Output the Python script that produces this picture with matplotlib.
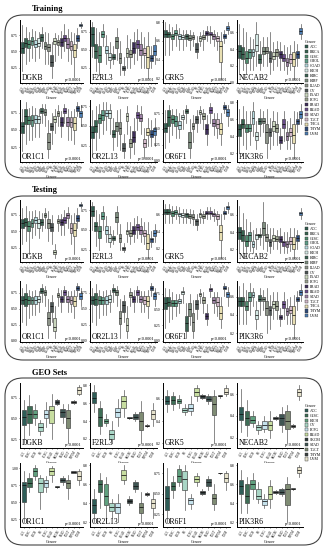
import numpy as np
import matplotlib.pyplot as plt
from matplotlib.patches import FancyBboxPatch, Patch
from matplotlib.transforms import IdentityTransform
from matplotlib.ticker import MultipleLocator, FormatStrFormatter

plt.rcParams['font.family'] = ['Liberation Serif', 'DejaVu Serif']

# ---------------- categories / colours ----------------
tcga_cancers = ['ACC', 'BRCA', 'CESC', 'CHOL', 'COAD', 'KICH', 'KIRC', 'KIRP', 'LUAD', 'OV',
                'PAAD', 'PCPG', 'PRAD', 'READ', 'STAD', 'TGCT', 'THCA', 'THYM', 'UVM']
tcga_colors = ['#2f5c4e', '#36644f', '#4e8c6e', '#5f9e88', '#b5dadf', '#d4e8e4', '#3b6252',
               '#7c8d7e', '#8d9489', '#4c5555', '#c9d5bd', '#9aa28e', '#3e2e5a', '#6a4c8a',
               '#9d80a5', '#d3b9c9', '#e8dfb2', '#2e4a78', '#4c7db3']
geo_cancers = ['ACC', 'CESC', 'KICH', 'OV', 'PCPG', 'READ', 'SKCM', 'STAD', 'TGCT', 'THYM', 'UVM']
geo_colors = ['#2e5d57', '#3e6e56', '#5fa07e', '#a9d6c6', '#c5e2ec', '#c7dda0', '#2f3b3b',
              '#3f5553', '#7f8c74', '#3a4040', '#e6e2cc']

genes = ['DGKB', 'F2RL3', 'GRK5', 'NECAB2', 'OR1C1', 'OR2L13', 'OR6F1', 'PIK3R6']
tcga_steps = [0.25, 0.25, 0.2, 0.2, 0.25, 0.25, 0.25, 0.2]
geo_steps = [0.25, 0.2, 0.2, 0.2, 0.25, 0.2, 0.25, 0.2]

# box statistics per cancer: (whisker low, q1, median, q3, whisker high)
train_DGKB = [(0.20, 0.47, 0.55, 0.65, 0.90), (0.30, 0.56, 0.63, 0.70, 0.88), (0.35, 0.55, 0.62, 0.68, 0.80),
              (0.40, 0.60, 0.66, 0.72, 0.85), (0.35, 0.56, 0.62, 0.68, 0.82), (0.40, 0.58, 0.63, 0.70, 0.80),
              (0.55, 0.66, 0.72, 0.77, 0.88), (0.30, 0.53, 0.58, 0.64, 0.80), (0.30, 0.50, 0.56, 0.62, 0.78),
              (0.08, 0.28, 0.33, 0.45, 0.65), (0.35, 0.62, 0.66, 0.70, 0.78), (0.45, 0.60, 0.64, 0.68, 0.76),
              (0.40, 0.58, 0.64, 0.70, 0.82), (0.50, 0.66, 0.71, 0.76, 0.92), (0.35, 0.55, 0.62, 0.70, 0.85),
              (0.30, 0.52, 0.58, 0.66, 0.80), (0.10, 0.42, 0.52, 0.62, 0.78), (0.55, 0.66, 0.71, 0.76, 0.86),
              (0.86, 0.89, 0.91, 0.93, 0.95)]
train_F2RL3 = [(0.40, 0.55, 0.72, 0.82, 0.88), (0.20, 0.38, 0.48, 0.58, 0.80), (0.15, 0.33, 0.42, 0.55, 0.75),
               (0.55, 0.68, 0.72, 0.76, 0.85), (0.30, 0.45, 0.50, 0.55, 0.70), (0.25, 0.36, 0.40, 0.45, 0.60),
               (0.30, 0.37, 0.40, 0.44, 0.55), (0.35, 0.52, 0.62, 0.68, 0.80), (0.15, 0.32, 0.38, 0.45, 0.62),
               (0.15, 0.22, 0.25, 0.28, 0.40), (0.25, 0.40, 0.45, 0.52, 0.70), (0.25, 0.40, 0.44, 0.50, 0.65),
               (0.30, 0.45, 0.52, 0.60, 0.75), (0.35, 0.52, 0.58, 0.64, 0.78), (0.25, 0.42, 0.50, 0.58, 0.75),
               (0.25, 0.42, 0.46, 0.52, 0.68), (0.10, 0.25, 0.40, 0.55, 0.75), (0.25, 0.34, 0.38, 0.42, 0.55),
               (0.30, 0.42, 0.48, 0.56, 0.68)]
train_GRK5 = [(0.45, 0.64, 0.68, 0.72, 0.80), (0.45, 0.64, 0.67, 0.70, 0.78), (0.50, 0.62, 0.65, 0.68, 0.75),
              (0.55, 0.66, 0.69, 0.72, 0.78), (0.50, 0.62, 0.65, 0.68, 0.74), (0.50, 0.62, 0.64, 0.66, 0.72),
              (0.55, 0.62, 0.65, 0.67, 0.72), (0.50, 0.61, 0.63, 0.66, 0.72), (0.55, 0.62, 0.64, 0.66, 0.70),
              (0.42, 0.48, 0.52, 0.58, 0.65), (0.55, 0.60, 0.63, 0.65, 0.70), (0.50, 0.62, 0.64, 0.66, 0.72),
              (0.60, 0.66, 0.69, 0.71, 0.76), (0.58, 0.66, 0.68, 0.70, 0.76), (0.55, 0.62, 0.65, 0.67, 0.72),
              (0.50, 0.60, 0.63, 0.65, 0.70), (0.20, 0.38, 0.55, 0.60, 0.70), (0.58, 0.63, 0.65, 0.67, 0.72),
              (0.68, 0.72, 0.74, 0.76, 0.80)]
train_NECAB2 = [(0.10, 0.30, 0.38, 0.45, 0.70), (0.15, 0.28, 0.34, 0.42, 0.65), (0.10, 0.24, 0.30, 0.38, 0.60),
                (0.15, 0.30, 0.36, 0.40, 0.55), (0.15, 0.32, 0.36, 0.40, 0.52), (0.20, 0.38, 0.45, 0.58, 0.72),
                (0.15, 0.24, 0.28, 0.34, 0.50), (0.20, 0.34, 0.38, 0.42, 0.55), (0.20, 0.35, 0.38, 0.42, 0.55),
                (0.10, 0.25, 0.30, 0.38, 0.60), (0.15, 0.28, 0.32, 0.36, 0.48), (0.20, 0.32, 0.36, 0.40, 0.50),
                (0.15, 0.30, 0.34, 0.38, 0.48), (0.15, 0.26, 0.30, 0.34, 0.45), (0.10, 0.20, 0.25, 0.30, 0.42),
                (0.15, 0.24, 0.28, 0.34, 0.45), (0.05, 0.20, 0.28, 0.36, 0.50), (0.20, 0.30, 0.34, 0.38, 0.46),
                (0.52, 0.58, 0.62, 0.65, 0.70)]
train_OR1C1 = [(0.20, 0.45, 0.55, 0.62, 0.80), (0.30, 0.58, 0.70, 0.80, 0.90), (0.35, 0.58, 0.64, 0.70, 0.82),
               (0.35, 0.56, 0.64, 0.72, 0.85), (0.40, 0.60, 0.66, 0.72, 0.82), (0.40, 0.60, 0.66, 0.70, 0.80),
               (0.60, 0.74, 0.78, 0.81, 0.88), (0.55, 0.72, 0.76, 0.80, 0.88), (0.10, 0.22, 0.32, 0.45, 0.65),
               (0.30, 0.50, 0.55, 0.60, 0.75), (0.45, 0.62, 0.66, 0.70, 0.80), (0.55, 0.70, 0.74, 0.78, 0.86),
               (0.40, 0.56, 0.62, 0.68, 0.78), (0.60, 0.74, 0.78, 0.82, 0.88), (0.35, 0.55, 0.62, 0.68, 0.80),
               (0.35, 0.54, 0.62, 0.68, 0.78), (0.30, 0.50, 0.60, 0.68, 0.80), (0.70, 0.78, 0.82, 0.85, 0.90),
               (0.55, 0.68, 0.74, 0.78, 0.86)]
train_OR2L13 = [(0.15, 0.35, 0.42, 0.50, 0.70), (0.20, 0.42, 0.50, 0.58, 0.75), (0.35, 0.54, 0.60, 0.65, 0.78),
                (0.40, 0.58, 0.64, 0.70, 0.80), (0.45, 0.62, 0.66, 0.70, 0.80), (0.40, 0.60, 0.66, 0.70, 0.78),
                (0.20, 0.36, 0.40, 0.45, 0.60), (0.25, 0.44, 0.50, 0.55, 0.70), (0.20, 0.40, 0.47, 0.55, 0.72),
                (0.10, 0.18, 0.22, 0.28, 0.40), (0.40, 0.56, 0.62, 0.66, 0.75), (0.10, 0.24, 0.28, 0.34, 0.50),
                (0.15, 0.30, 0.36, 0.44, 0.60), (0.45, 0.60, 0.64, 0.68, 0.76), (0.40, 0.56, 0.60, 0.65, 0.75),
                (0.10, 0.24, 0.28, 0.34, 0.48), (0.25, 0.38, 0.42, 0.48, 0.60), (0.25, 0.36, 0.40, 0.45, 0.58),
                (0.25, 0.38, 0.43, 0.48, 0.60)]
train_OR6F1 = [(0.20, 0.45, 0.52, 0.60, 0.80), (0.30, 0.55, 0.68, 0.80, 0.88), (0.40, 0.60, 0.66, 0.72, 0.82),
               (0.35, 0.55, 0.62, 0.70, 0.82), (0.35, 0.50, 0.56, 0.62, 0.75), (0.50, 0.65, 0.68, 0.72, 0.80),
               (0.60, 0.75, 0.78, 0.82, 0.88), (0.05, 0.20, 0.30, 0.45, 0.65), (0.30, 0.50, 0.55, 0.60, 0.72),
               (0.45, 0.60, 0.65, 0.70, 0.80), (0.60, 0.74, 0.77, 0.80, 0.86), (0.50, 0.65, 0.70, 0.75, 0.82),
               (0.25, 0.42, 0.50, 0.58, 0.72), (0.60, 0.75, 0.80, 0.84, 0.90), (0.40, 0.55, 0.60, 0.65, 0.75),
               (0.35, 0.52, 0.58, 0.65, 0.75), (0.25, 0.42, 0.50, 0.60, 0.75), (0.75, 0.82, 0.85, 0.88, 0.92),
               (0.55, 0.70, 0.76, 0.82, 0.88)]
train_PIK3R6 = [(0.20, 0.40, 0.48, 0.55, 0.72), (0.30, 0.50, 0.55, 0.60, 0.75), (0.25, 0.45, 0.50, 0.55, 0.70),
                (0.30, 0.46, 0.50, 0.55, 0.70), (0.40, 0.55, 0.62, 0.70, 0.80), (0.25, 0.36, 0.40, 0.45, 0.58),
                (0.40, 0.55, 0.58, 0.62, 0.72), (0.45, 0.56, 0.58, 0.62, 0.70), (0.15, 0.32, 0.45, 0.55, 0.72),
                (0.25, 0.40, 0.45, 0.50, 0.62), (0.30, 0.46, 0.52, 0.58, 0.70), (0.30, 0.45, 0.50, 0.55, 0.68),
                (0.25, 0.32, 0.36, 0.40, 0.50), (0.35, 0.50, 0.55, 0.60, 0.70), (0.25, 0.36, 0.40, 0.45, 0.58),
                (0.25, 0.40, 0.45, 0.50, 0.62), (0.15, 0.32, 0.42, 0.55, 0.70), (0.45, 0.55, 0.58, 0.60, 0.68),
                (0.55, 0.62, 0.66, 0.70, 0.78)]

test_DGKB = [(0.30, 0.55, 0.62, 0.68, 0.85), (0.35, 0.58, 0.64, 0.70, 0.88), (0.15, 0.50, 0.58, 0.65, 0.80),
             (0.40, 0.56, 0.62, 0.68, 0.80), (0.45, 0.62, 0.67, 0.72, 0.82), (0.40, 0.55, 0.62, 0.68, 0.80),
             (0.50, 0.60, 0.64, 0.68, 0.78), (0.55, 0.72, 0.75, 0.78, 0.85), (0.35, 0.55, 0.62, 0.68, 0.80),
             (0.30, 0.50, 0.56, 0.62, 0.75), (0.10, 0.15, 0.18, 0.22, 0.30), (0.50, 0.62, 0.65, 0.68, 0.75),
             (0.45, 0.60, 0.64, 0.68, 0.76), (0.45, 0.62, 0.67, 0.72, 0.82), (0.55, 0.70, 0.74, 0.78, 0.86),
             (0.30, 0.48, 0.55, 0.62, 0.75), (0.15, 0.42, 0.52, 0.62, 0.78), (0.55, 0.66, 0.70, 0.75, 0.85),
             (0.85, 0.88, 0.90, 0.92, 0.94)]
test_F2RL3 = [(0.50, 0.68, 0.74, 0.80, 0.85), (0.30, 0.48, 0.55, 0.60, 0.75), (0.25, 0.40, 0.48, 0.55, 0.70),
              (0.50, 0.64, 0.68, 0.72, 0.80), (0.35, 0.45, 0.50, 0.55, 0.68), (0.28, 0.35, 0.40, 0.45, 0.55),
              (0.32, 0.37, 0.40, 0.42, 0.50), (0.45, 0.60, 0.66, 0.72, 0.80), (0.25, 0.35, 0.40, 0.45, 0.58),
              (0.22, 0.25, 0.27, 0.29, 0.34), (0.35, 0.45, 0.48, 0.50, 0.60), (0.32, 0.42, 0.46, 0.50, 0.60),
              (0.35, 0.45, 0.50, 0.55, 0.65), (0.40, 0.50, 0.54, 0.58, 0.68), (0.35, 0.45, 0.50, 0.55, 0.65),
              (0.32, 0.42, 0.46, 0.50, 0.60), (0.15, 0.26, 0.34, 0.45, 0.60), (0.28, 0.35, 0.38, 0.40, 0.48),
              (0.35, 0.42, 0.46, 0.50, 0.58)]
test_GRK5 = [(0.50, 0.60, 0.63, 0.66, 0.72), (0.50, 0.60, 0.63, 0.66, 0.72), (0.50, 0.58, 0.61, 0.64, 0.70),
             (0.55, 0.60, 0.63, 0.65, 0.70), (0.50, 0.58, 0.60, 0.62, 0.68), (0.50, 0.57, 0.59, 0.61, 0.66),
             (0.50, 0.57, 0.60, 0.62, 0.66), (0.50, 0.56, 0.58, 0.60, 0.66), (0.48, 0.55, 0.57, 0.60, 0.65),
             (0.42, 0.48, 0.52, 0.55, 0.60), (0.50, 0.57, 0.60, 0.62, 0.66), (0.50, 0.56, 0.58, 0.60, 0.64),
             (0.55, 0.60, 0.62, 0.64, 0.68), (0.55, 0.60, 0.62, 0.64, 0.68), (0.52, 0.58, 0.60, 0.62, 0.66),
             (0.48, 0.55, 0.58, 0.60, 0.64), (0.10, 0.30, 0.40, 0.48, 0.60), (0.55, 0.60, 0.62, 0.64, 0.68),
             (0.62, 0.66, 0.68, 0.70, 0.74)]
test_NECAB2 = [(0.15, 0.32, 0.40, 0.46, 0.70), (0.15, 0.30, 0.36, 0.42, 0.62), (0.10, 0.24, 0.30, 0.36, 0.55),
               (0.18, 0.30, 0.36, 0.40, 0.52), (0.15, 0.22, 0.26, 0.30, 0.42), (0.20, 0.32, 0.36, 0.38, 0.45),
               (0.25, 0.34, 0.36, 0.38, 0.45), (0.20, 0.36, 0.45, 0.52, 0.75), (0.18, 0.30, 0.34, 0.38, 0.50),
               (0.15, 0.24, 0.28, 0.32, 0.45), (0.20, 0.30, 0.33, 0.36, 0.45), (0.20, 0.30, 0.32, 0.35, 0.42),
               (0.15, 0.28, 0.32, 0.35, 0.45), (0.15, 0.24, 0.28, 0.30, 0.40), (0.15, 0.22, 0.26, 0.30, 0.40),
               (0.18, 0.26, 0.30, 0.34, 0.45), (0.10, 0.20, 0.26, 0.34, 0.45), (0.20, 0.30, 0.33, 0.36, 0.42),
               (0.55, 0.60, 0.62, 0.64, 0.68)]
test_OR1C1 = [(0.30, 0.58, 0.64, 0.70, 0.82), (0.25, 0.55, 0.65, 0.75, 0.88), (0.35, 0.58, 0.64, 0.70, 0.80),
              (0.40, 0.58, 0.63, 0.68, 0.78), (0.40, 0.58, 0.64, 0.70, 0.80), (0.45, 0.60, 0.65, 0.70, 0.78),
              (0.60, 0.75, 0.78, 0.82, 0.88), (0.55, 0.72, 0.76, 0.80, 0.86), (0.05, 0.25, 0.35, 0.45, 0.65),
              (0.30, 0.45, 0.55, 0.60, 0.72), (0.05, 0.15, 0.22, 0.35, 0.55), (0.55, 0.68, 0.72, 0.75, 0.82),
              (0.45, 0.60, 0.65, 0.70, 0.80), (0.60, 0.72, 0.76, 0.80, 0.86), (0.45, 0.60, 0.65, 0.70, 0.78),
              (0.45, 0.58, 0.64, 0.70, 0.78), (0.35, 0.54, 0.62, 0.70, 0.80), (0.70, 0.80, 0.83, 0.86, 0.90),
              (0.55, 0.66, 0.70, 0.75, 0.82)]
test_OR2L13 = [(0.30, 0.58, 0.64, 0.70, 0.82), (0.25, 0.56, 0.66, 0.74, 0.88), (0.35, 0.58, 0.64, 0.70, 0.80),
               (0.40, 0.58, 0.64, 0.68, 0.78), (0.40, 0.58, 0.64, 0.70, 0.80), (0.45, 0.60, 0.66, 0.72, 0.80),
               (0.60, 0.76, 0.79, 0.82, 0.88), (0.55, 0.72, 0.76, 0.80, 0.86), (0.05, 0.26, 0.36, 0.46, 0.65),
               (0.30, 0.45, 0.56, 0.62, 0.72), (0.05, 0.16, 0.24, 0.36, 0.55), (0.55, 0.68, 0.72, 0.76, 0.82),
               (0.45, 0.60, 0.66, 0.70, 0.80), (0.60, 0.72, 0.77, 0.80, 0.86), (0.45, 0.60, 0.65, 0.70, 0.78),
               (0.45, 0.58, 0.64, 0.70, 0.78), (0.35, 0.54, 0.62, 0.70, 0.80), (0.70, 0.80, 0.83, 0.86, 0.90),
               (0.55, 0.66, 0.70, 0.75, 0.82)]
test_OR6F1 = [(0.20, 0.50, 0.60, 0.70, 0.85), (0.30, 0.55, 0.62, 0.70, 0.82), (0.35, 0.55, 0.60, 0.65, 0.78),
              (0.40, 0.55, 0.60, 0.65, 0.75), (0.45, 0.60, 0.63, 0.66, 0.75), (0.60, 0.75, 0.78, 0.80, 0.86),
              (0.05, 0.15, 0.28, 0.40, 0.60), (0.25, 0.40, 0.50, 0.60, 0.75), (0.05, 0.15, 0.30, 0.45, 0.65),
              (0.35, 0.50, 0.58, 0.65, 0.75), (0.60, 0.72, 0.74, 0.76, 0.82), (0.45, 0.60, 0.65, 0.70, 0.78),
              (0.25, 0.35, 0.40, 0.45, 0.58), (0.70, 0.80, 0.82, 0.85, 0.90), (0.45, 0.60, 0.65, 0.70, 0.78),
              (0.40, 0.55, 0.62, 0.70, 0.78), (0.20, 0.35, 0.45, 0.55, 0.70), (0.72, 0.82, 0.85, 0.88, 0.92),
              (0.55, 0.70, 0.74, 0.78, 0.86)]
test_PIK3R6 = [(0.30, 0.50, 0.55, 0.60, 0.72), (0.30, 0.50, 0.55, 0.60, 0.75), (0.30, 0.45, 0.50, 0.55, 0.68),
               (0.40, 0.55, 0.60, 0.65, 0.75), (0.50, 0.60, 0.62, 0.65, 0.70), (0.25, 0.35, 0.40, 0.45, 0.55),
               (0.40, 0.55, 0.58, 0.62, 0.70), (0.45, 0.55, 0.58, 0.60, 0.68), (0.20, 0.40, 0.48, 0.55, 0.70),
               (0.25, 0.40, 0.45, 0.50, 0.62), (0.35, 0.48, 0.52, 0.55, 0.65), (0.35, 0.45, 0.50, 0.55, 0.65),
               (0.28, 0.35, 0.38, 0.40, 0.48), (0.35, 0.48, 0.52, 0.55, 0.65), (0.30, 0.40, 0.44, 0.48, 0.58),
               (0.30, 0.42, 0.46, 0.50, 0.60), (0.15, 0.30, 0.40, 0.50, 0.62), (0.45, 0.55, 0.58, 0.60, 0.66),
               (0.55, 0.62, 0.65, 0.68, 0.74)]

geo_DGKB = [(0.20, 0.42, 0.52, 0.60, 0.72), (0.30, 0.45, 0.55, 0.65, 0.78), (0.42, 0.50, 0.55, 0.60, 0.68),
            (0.30, 0.35, 0.40, 0.45, 0.48), (0.40, 0.50, 0.55, 0.60, 0.70), (0.25, 0.45, 0.60, 0.65, 0.80),
            (0.66, 0.68, 0.70, 0.72, 0.74), (0.45, 0.52, 0.58, 0.62, 0.68), (0.20, 0.38, 0.50, 0.60, 0.68),
            (0.68, 0.69, 0.70, 0.71, 0.72), (0.78, 0.80, 0.84, 0.88, 0.90)]
geo_F2RL3 = [(0.50, 0.60, 0.66, 0.72, 0.80), (0.25, 0.35, 0.45, 0.55, 0.62), (0.35, 0.38, 0.40, 0.42, 0.48),
             (0.15, 0.20, 0.25, 0.30, 0.40), (0.35, 0.45, 0.50, 0.55, 0.65), (0.45, 0.55, 0.62, 0.68, 0.75),
             (0.42, 0.43, 0.43, 0.44, 0.45), (0.40, 0.42, 0.45, 0.48, 0.50), (0.15, 0.30, 0.40, 0.50, 0.62),
             (0.33, 0.34, 0.35, 0.36, 0.37), (0.35, 0.42, 0.48, 0.52, 0.60)]
geo_GRK5 = [(0.48, 0.55, 0.58, 0.62, 0.68), (0.50, 0.55, 0.59, 0.62, 0.66), (0.52, 0.56, 0.58, 0.60, 0.63),
            (0.45, 0.48, 0.50, 0.52, 0.55), (0.45, 0.49, 0.52, 0.55, 0.62), (0.58, 0.62, 0.66, 0.70, 0.72),
            (0.60, 0.61, 0.62, 0.63, 0.64), (0.55, 0.58, 0.60, 0.62, 0.64), (0.20, 0.45, 0.55, 0.62, 0.68),
            (0.61, 0.62, 0.62, 0.63, 0.63), (0.62, 0.64, 0.66, 0.70, 0.72)]
geo_NECAB2 = [(0.25, 0.36, 0.42, 0.48, 0.65), (0.22, 0.32, 0.38, 0.45, 0.55), (0.30, 0.34, 0.36, 0.40, 0.45),
              (0.24, 0.27, 0.30, 0.32, 0.35), (0.25, 0.28, 0.32, 0.35, 0.40), (0.20, 0.27, 0.32, 0.35, 0.45),
              (0.36, 0.37, 0.38, 0.39, 0.40), (0.25, 0.32, 0.38, 0.42, 0.48), (0.15, 0.28, 0.35, 0.45, 0.50),
              (0.29, 0.30, 0.31, 0.32, 0.33), (0.55, 0.58, 0.62, 0.65, 0.68)]
geo_OR1C1 = [(0.20, 0.50, 0.75, 0.80, 0.95), (0.65, 0.72, 0.78, 0.85, 0.92), (0.82, 0.88, 0.95, 1.00, 1.04),
             (0.40, 0.65, 0.78, 0.85, 0.90), (0.65, 0.72, 0.78, 0.82, 0.88), (0.80, 0.90, 0.95, 1.00, 1.03),
             (0.71, 0.72, 0.72, 0.73, 0.73), (0.75, 0.80, 0.83, 0.85, 0.88), (0.55, 0.70, 0.78, 0.82, 0.90),
             (0.92, 0.93, 0.94, 0.95, 0.96), (0.75, 0.82, 0.88, 0.95, 0.98)]
geo_OR2L13 = [(0.20, 0.30, 0.38, 0.45, 0.55), (0.35, 0.52, 0.60, 0.65, 0.72), (0.20, 0.38, 0.48, 0.60, 0.68),
              (0.25, 0.32, 0.36, 0.40, 0.45), (0.20, 0.30, 0.36, 0.40, 0.50), (0.60, 0.65, 0.70, 0.75, 0.80),
              (0.38, 0.40, 0.42, 0.45, 0.48), (0.52, 0.55, 0.58, 0.62, 0.65), (0.20, 0.30, 0.36, 0.40, 0.52),
              (0.48, 0.49, 0.50, 0.51, 0.52), (0.25, 0.35, 0.40, 0.45, 0.52)]
geo_OR6F1 = [(0.15, 0.30, 0.45, 0.60, 0.82), (0.45, 0.55, 0.60, 0.65, 0.72), (0.60, 0.65, 0.72, 0.80, 0.85),
             (0.30, 0.55, 0.68, 0.78, 0.85), (0.32, 0.38, 0.42, 0.45, 0.50), (0.60, 0.65, 0.68, 0.72, 0.75),
             (0.48, 0.50, 0.52, 0.54, 0.56), (0.55, 0.60, 0.64, 0.68, 0.72), (0.30, 0.38, 0.45, 0.50, 0.62),
             (0.74, 0.75, 0.75, 0.76, 0.76), (0.55, 0.65, 0.70, 0.75, 0.78)]
geo_PIK3R6 = [(0.30, 0.50, 0.58, 0.65, 0.75), (0.30, 0.40, 0.48, 0.60, 0.68), (0.45, 0.55, 0.60, 0.65, 0.72),
              (0.40, 0.45, 0.48, 0.55, 0.62), (0.35, 0.38, 0.42, 0.45, 0.50), (0.35, 0.45, 0.50, 0.58, 0.65),
              (0.50, 0.51, 0.52, 0.53, 0.54), (0.48, 0.50, 0.52, 0.55, 0.56), (0.20, 0.38, 0.55, 0.60, 0.68),
              (0.54, 0.55, 0.55, 0.56, 0.56), (0.68, 0.72, 0.75, 0.78, 0.80)]

train_sets = [train_DGKB, train_F2RL3, train_GRK5, train_NECAB2, train_OR1C1, train_OR2L13, train_OR6F1, train_PIK3R6]
test_sets = [test_DGKB, test_F2RL3, test_GRK5, test_NECAB2, test_OR1C1, test_OR2L13, test_OR6F1, test_PIK3R6]
geo_sets = [geo_DGKB, geo_F2RL3, geo_GRK5, geo_NECAB2, geo_OR1C1, geo_OR2L13, geo_OR6F1, geo_PIK3R6]

# ---------------- layout (pixels, origin top-left) ----------------
W, H = 326, 550
fig = plt.figure(figsize=(W / 100, H / 100), dpi=100)


def rect(x0, y0, x1, y1):
    return [x0 / W, 1 - y1 / H, (x1 - x0) / W, (y1 - y0) / H]


def draw_panel(ax, data, cats, colors, gene, step):
    stats = [dict(whislo=d[0], q1=d[1], med=d[2], q3=d[3], whishi=d[4], fliers=[]) for d in data]
    b = ax.bxp(stats, positions=np.arange(len(data)), widths=0.8, patch_artist=True, showcaps=False,
               boxprops=dict(lw=0.4, edgecolor='#2a2a2a'),
               medianprops=dict(color='#111111', lw=0.55),
               whiskerprops=dict(color='#5a5a5a', lw=0.5))
    for p, c in zip(b['boxes'], colors):
        p.set_facecolor(c)
    lo = min(d[0] for d in data)
    hi = max(d[4] for d in data)
    rng = hi - lo
    ax.set_ylim(lo - 0.08 * rng, hi + 0.04 * rng)
    ax.set_xlim(-0.7, len(data) - 0.3)
    ax.yaxis.set_major_locator(MultipleLocator(step))
    ax.yaxis.set_major_formatter(FormatStrFormatter('%.2f' if step == 0.25 else '%.1f'))
    ax.set_xticks(np.arange(len(data)))
    ax.set_xticklabels(cats, rotation=60, ha='right', fontsize=2.2, rotation_mode='anchor')
    ax.tick_params(axis='y', labelsize=2.8, length=1, width=0.4, pad=0.5)
    ax.tick_params(axis='x', length=1, width=0.4, pad=0.5)
    for s in ['top', 'right']:
        ax.spines[s].set_visible(False)
    for s in ['left', 'bottom']:
        ax.spines[s].set_linewidth(0.7)
    ax.set_xlabel('Cancer', fontsize=3, labelpad=0.5)
    ax.text(0.03, 0.01, gene, transform=ax.transAxes, fontsize=5.5, va='bottom', ha='left')
    ax.text(0.97, 0.01, 'p<0.0001', transform=ax.transAxes, fontsize=3.2, va='bottom', ha='right')


cols = [(20, 83), (90, 157), (163, 230), (237, 303)]
sections = [
    ('Training', train_sets, tcga_cancers, tcga_colors, tcga_steps,
     (15, 178), [(20, 83), (100, 162)], 9, 38),
    ('Testing', test_sets, tcga_cancers, tcga_colors, tcga_steps,
     (196, 360), [(200, 262), (281, 342)], 190, 220),
    ('GEO Sets', geo_sets, geo_cancers, geo_colors, geo_steps,
     (378, 545), [(383, 448), (463, 527)], 373, 402),
]

for title, sets, cats, colors, steps, (by0, by1), rows, ty, ly in sections:
    frame = FancyBboxPatch((5, H - by1), 317, by1 - by0, boxstyle='round,pad=0,rounding_size=18',
                           transform=IdentityTransform(), fill=False, ec='#444444', lw=0.8)
    fig.add_artist(frame)
    fig.text(32 / W, 1 - ty / H, title, fontsize=6, fontweight='bold', va='center', ha='left')
    for i, gene in enumerate(genes):
        r, c = divmod(i, 4)
        ax = fig.add_axes(rect(cols[c][0], rows[r][0], cols[c][1], rows[r][1]))
        draw_panel(ax, sets[i], cats, colors, gene, steps[i])
    handles = [Patch(facecolor=col, edgecolor='#333333', lw=0.3) for col in colors]
    fig.legend(handles, cats, loc='upper left', bbox_to_anchor=(303 / W, 1 - ly / H), title='Cancer',
               fontsize=2.8, title_fontsize=3, frameon=False, handlelength=0.9, handleheight=0.9,
               handletextpad=0.3, labelspacing=0.22, borderpad=0, alignment='left')

fig.savefig('out.png', dpi=100)
